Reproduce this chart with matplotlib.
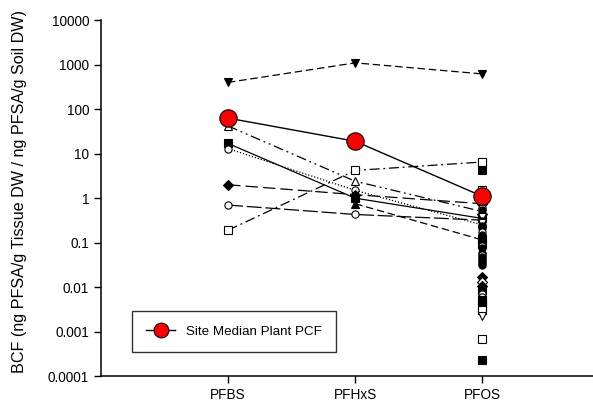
import matplotlib
matplotlib.use("Agg")
import matplotlib.pyplot as plt

plt.rcParams['font.family'] = ['Liberation Sans', 'DejaVu Sans']

compounds = ["PFBS", "PFHxS", "PFOS"]
xpos = [1, 2, 3]

# site median plant PCF (red)
median_pcf = [63, 19, 1.1]

# individual plant series
s_tri_down = [400, 1100, 620]
s_tri_up = [42, 2.4, 0.5]
s_sq_fill = [17, 1.0, 0.35]
s_circ_open1 = [13, 1.5, 0.25]
s_diamond = [2.0, 1.2, 0.75]
s_circ_open2 = [0.7, 0.43, 0.32]
s_sq_open = [0.19, 4.2, 6.5]
s_tri_fill = [None, 0.75, 0.115]

series = [
    (s_tri_down, 'v', True, (0, (6, 3))),
    (s_tri_up, '^', False, (0, (8, 3, 1.5, 3, 1.5, 3))),
    (s_sq_fill, 's', True, '-'),
    (s_circ_open1, 'o', False, (0, (1, 1.5))),
    (s_diamond, 'D', True, (0, (10, 4))),
    (s_circ_open2, 'o', False, (0, (12, 3))),
    (s_sq_open, 's', False, (0, (8, 3, 1.5, 3))),
    (s_tri_fill, '^', True, (0, (6, 3))),
]

# PFOS-only points (no lines)
pfos_extra = [6.5, 4.2, 1.5, 0.9, 0.8, 0.7, 0.6, 0.55, 0.45, 0.4, 0.38, 0.3, 0.27, 0.24,
              0.21, 0.19, 0.17, 0.15, 0.13, 0.12, 0.105, 0.095, 0.085, 0.075, 0.068,
              0.06, 0.054, 0.048, 0.042, 0.038, 0.034, 0.031,
              0.0168, 0.0129, 0.0105, 0.0086, 0.007, 0.006, 0.0052, 0.0046, 0.004,
              0.0035, 0.003, 0.0023,
              0.00067, 0.00023]
pfos_markers = ['s', 's', 's', 'o', 'D', 'v', 'o', 'o', 'D', 'o', 'v', 'o', 'v', 'o',
                'o', 'v', 'o', 'o', 'o', 's', 'o', 's', 'o', 'o', 'v',
                'o', 'o', 'o', 'o', 'o', 'o', 'o',
                'D', 'D', 'D', 's', 'o', 'o', 's', 's', 'o',
                's', 's', 'v',
                's', 's']
pfos_filled = [False, True, False, True, True, True, False, True, True, True, False, True, False, True,
               True, True, False, True, True, True, True, True, False, True, True,
               True, False, True, True, True, True, True,
               True, False, True, True, False, False, True, True, True,
               True, False, False,
               False, True]

fig = plt.figure(figsize=(5.93, 4.04), dpi=100)
ax = fig.add_axes([0.170, 0.069, 0.858, 0.881])

ms = 5.2
for vals, m, filled, ls in series:
    xs = [x for x, v in zip(xpos, vals) if v is not None]
    ys = [v for v in vals if v is not None]
    ax.plot(xs, ys, color='black', lw=0.9, linestyle=ls, marker=m,
            markersize=ms, markerfacecolor='black' if filled else 'white',
            markeredgecolor='black', markeredgewidth=0.8)

for v, m, filled in zip(pfos_extra, pfos_markers, pfos_filled):
    ax.plot([3], [v], linestyle='none', marker=m, markersize=ms,
            markerfacecolor='black' if filled else 'white',
            markeredgecolor='black', markeredgewidth=0.8)

ax.plot(xpos, median_pcf, color='black', lw=1.0, marker='o', markersize=12.5,
        markerfacecolor='red', markeredgecolor='black', markeredgewidth=0.8,
        label='Site Median Plant PCF', zorder=5)

ax.set_yscale('log')
ax.set_ylim(1e-4, 1e4)
ax.set_xlim(0, 4)
ax.set_xticks(xpos)
ax.set_xticklabels(compounds)
yt = [1e-4, 1e-3, 1e-2, 1e-1, 1, 10, 100, 1000, 10000]
ax.set_yticks(yt)
ax.set_yticklabels(["0.0001", "0.001", "0.01", "0.1", "1", "10", "100", "1000", "10000"])
ax.minorticks_off()
ax.tick_params(direction='out', length=5, width=1, labelsize=9.8)
for side in ['top', 'right']:
    ax.spines[side].set_visible(False)
for side in ['left', 'bottom']:
    ax.spines[side].set_linewidth(1.1)

ax.set_ylabel('BCF (ng PFSA/g Tissue DW / ng PFSA/g Soil DW)', fontsize=11.6)
ax.yaxis.set_label_coords(-0.145, 0.52)

leg = ax.legend(loc='lower left', bbox_to_anchor=(0.048, 0.05), fontsize=9.6,
                frameon=True, fancybox=False, edgecolor='black', borderpad=1.05,
                handlelength=2.2, markerscale=0.85)
leg.get_frame().set_linewidth(1.0)

fig.savefig('out.png', dpi=100)
